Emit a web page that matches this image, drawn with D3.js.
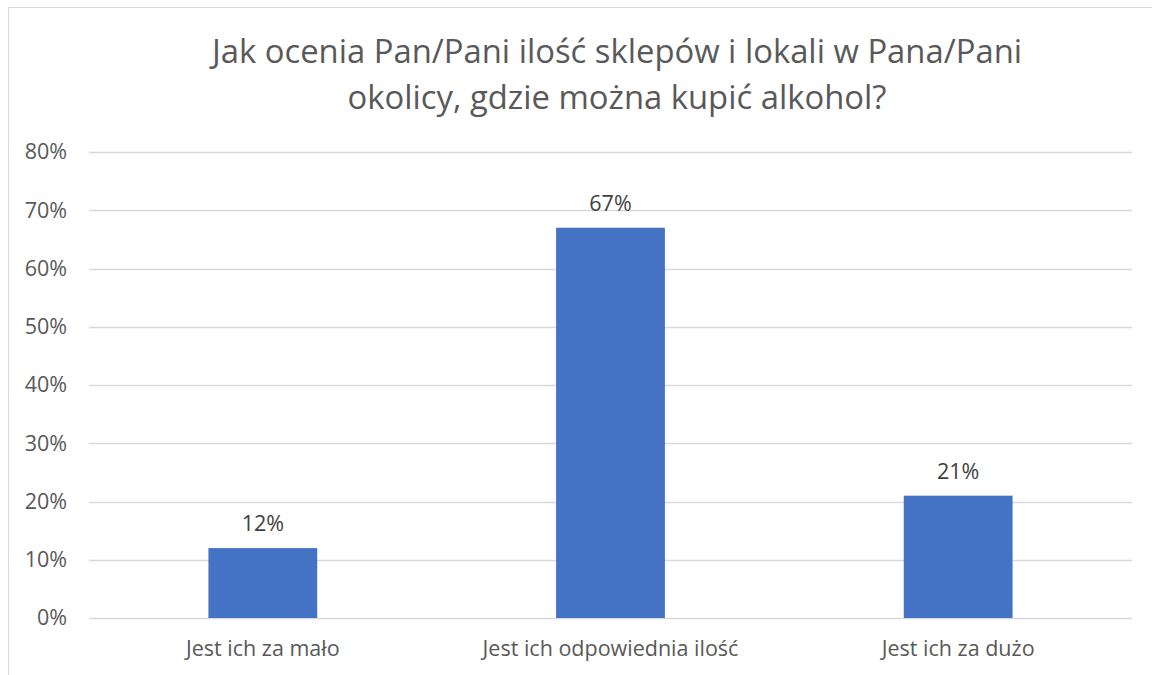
<!DOCTYPE html>
<html><head><meta charset="utf-8">
<script src="https://cdn.jsdelivr.net/npm/d3@7"></script>
<style>body{margin:0;background:#fff}svg{display:block}</style>
</head><body>
<svg id="c" width="1152" height="675"></svg>
<script>
const categories = ["Jest ich za mało", "Jest ich odpowiednia ilość", "Jest ich za dużo"];
const values = [0.12, 0.67, 0.21];
const yTicks = [0, 0.1, 0.2, 0.3, 0.4, 0.5, 0.6, 0.7, 0.8];
const titleLines = ["Jak ocenia Pan/Pani ilość sklepów i lokali w Pana/Pani", "okolicy, gdzie można kupić alkohol?"];

const svg = d3.select("#c");
const font = "'Open Sans', 'Noto Sans', sans-serif";
svg.append("rect").attr("x", 8.5).attr("y", 7.5).attr("width", 1160).attr("height", 700)
  .attr("fill", "#fff").attr("stroke", "#d9d9d9").attr("stroke-width", 1);

const m = {left: 89, right: 1132, top: 152, bottom: 618};
const x = d3.scaleBand().domain(categories).range([m.left, m.right]).paddingInner(0.687).paddingOuter(0.3435);
const y = d3.scaleLinear().domain([0, 0.8]).range([m.bottom, m.top]);

// gridlines
svg.append("g").selectAll("line").data(yTicks).join("line")
  .attr("x1", m.left).attr("x2", m.right)
  .attr("y1", d => Math.round(y(d)) + 0.5).attr("y2", d => Math.round(y(d)) + 0.5)
  .attr("stroke", "#d9d9d9").attr("stroke-width", 1.3);

// y axis labels
const yAxis = d3.axisLeft(y).tickValues(yTicks).tickFormat(d3.format(".0%")).tickSize(0).tickPadding(22);
const ya = svg.append("g").attr("transform", `translate(${m.left},0)`).call(yAxis);
ya.select(".domain").remove();
ya.selectAll("text").attr("fill", "#595959").style("font-family", font).style("font-size", "21.5px");

// bars
svg.append("g").selectAll("rect").data(values).join("rect")
  .attr("x", (d, i) => x(categories[i])).attr("width", x.bandwidth())
  .attr("y", d => y(d)).attr("height", d => y(0) - y(d))
  .attr("fill", "#4472c4");

// data labels
svg.append("g").selectAll("text").data(values).join("text")
  .attr("x", (d, i) => x(categories[i]) + x.bandwidth() / 2)
  .attr("y", d => y(d) - 17)
  .attr("text-anchor", "middle").attr("fill", "#404040")
  .style("font-family", font).style("font-size", "21.5px")
  .text(d => d3.format(".0%")(d));

// x axis labels
const xAxis = d3.axisBottom(x).tickSize(0).tickPadding(0);
const xa = svg.append("g").attr("transform", `translate(0,${m.bottom})`).call(xAxis);
xa.select(".domain").remove();
xa.selectAll("text").attr("dy", null).attr("y", 38).attr("fill", "#595959").style("font-family", font).style("font-size", "21.5px");

// title
svg.append("g").selectAll("text").data(titleLines).join("text")
  .attr("x", 617).attr("y", (d, i) => 63 + i * 46)
  .attr("text-anchor", "middle").attr("fill", "#595959")
  .style("font-family", font).style("font-size", "32.8px")
  .text(d => d);
</script>
</body></html>
